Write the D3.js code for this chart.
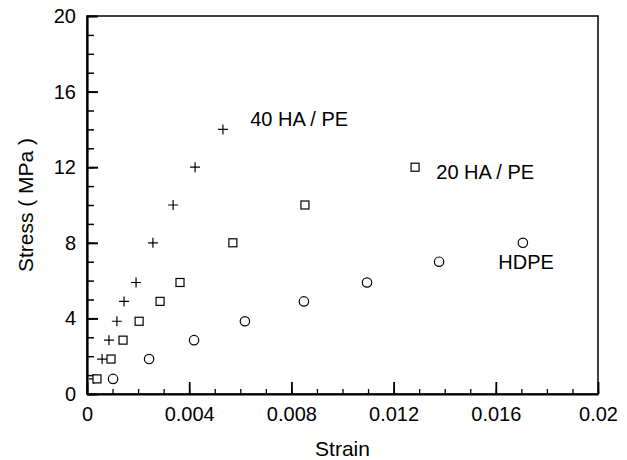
<!DOCTYPE html>
<html>
<head>
<meta charset="utf-8">
<script src="https://cdn.jsdelivr.net/npm/d3@7"></script>
<style>
  html, body { margin: 0; padding: 0; background: #fff; }
  svg { display: block; font-family: "Liberation Sans", Arial, sans-serif; }
</style>
</head>
<body>
<svg id="chart" width="627" height="460"></svg>
<script>
// ---- data ----
const xTickValues = [0, 0.004, 0.008, 0.012, 0.016, 0.02];
const xTickLabels = ["0", "0.004", "0.008", "0.012", "0.016", "0.02"];
const yTickValues = [0, 4, 8, 12, 16, 20];
const yTickLabels = ["0", "4", "8", "12", "16", "20"];

const ha40Strain = [0.00027, 0.00059, 0.00086, 0.00117, 0.00145, 0.00192, 0.00258, 0.00337, 0.00423, 0.00532];
const ha40Stress = [0.8, 1.85, 2.85, 3.85, 4.9, 5.9, 8, 10, 12, 14];

const ha20Strain = [0.00039, 0.00094, 0.00141, 0.00204, 0.00286, 0.00364, 0.00571, 0.00853, 0.01284];
const ha20Stress = [0.8, 1.85, 2.85, 3.85, 4.9, 5.9, 8, 10, 12];

const hdpeStrain = [0.00102, 0.00243, 0.00419, 0.00618, 0.00849, 0.01096, 0.01378, 0.01706];
const hdpeStress = [0.8, 1.85, 2.85, 3.85, 4.9, 5.9, 7, 8];

const seriesNames = ["40 HA / PE", "20 HA / PE", "HDPE"];

// ---- layout ----
const svg = d3.select("#chart");
const mLeft = 87, mRight = 598, mTop = 16, mBottom = 394;
const x = d3.scaleLinear().domain([0, 0.02]).range([mLeft, mRight]);
const y = d3.scaleLinear().domain([0, 20]).range([mBottom, mTop]);

// frame (top/right)
svg.append("rect")
  .attr("x", mLeft).attr("y", mTop)
  .attr("width", mRight - mLeft).attr("height", mBottom - mTop)
  .attr("fill", "none").attr("stroke", "#000").attr("stroke-width", 1.5);

// minor ticks
svg.append("g")
  .attr("transform", `translate(0,${mBottom})`)
  .call(d3.axisBottom(x).tickValues(d3.range(0, 21).map(d => d / 1000)).tickSize(-5).tickFormat(""))
  .call(g => g.select(".domain").remove())
  .call(g => g.selectAll("line").attr("stroke", "#000").attr("stroke-width", 1.3));

svg.append("g")
  .attr("transform", `translate(${mLeft},0)`)
  .call(d3.axisLeft(y).tickValues(d3.range(0, 21)).tickSize(-7).tickFormat(""))
  .call(g => g.select(".domain").remove())
  .call(g => g.selectAll("line").attr("stroke", "#000").attr("stroke-width", 1.5));

// major axes
svg.append("g")
  .attr("transform", `translate(0,${mBottom})`)
  .call(d3.axisBottom(x).tickValues(xTickValues).tickSize(-12).tickSizeOuter(0).tickPadding(13)
        .tickFormat((d, i) => xTickLabels[i]))
  .call(g => g.select(".domain").attr("stroke", "#000").attr("stroke-width", 2.2))
  .call(g => g.selectAll("line").attr("stroke", "#000").attr("stroke-width", 1.8))
  .call(g => g.selectAll("text").attr("font-size", 20).attr("fill", "#000")
        .attr("font-family", "Liberation Sans, Arial, sans-serif"));

svg.append("g")
  .attr("transform", `translate(${mLeft},0)`)
  .call(d3.axisLeft(y).tickValues(yTickValues).tickSize(-11).tickSizeOuter(0).tickPadding(11)
        .tickFormat((d, i) => yTickLabels[i]))
  .call(g => g.select(".domain").attr("stroke", "#000").attr("stroke-width", 2.2))
  .call(g => g.selectAll("line").attr("stroke", "#000").attr("stroke-width", 2))
  .call(g => g.selectAll("text").attr("font-size", 20).attr("fill", "#000")
        .attr("font-family", "Liberation Sans, Arial, sans-serif"));

// axis titles
svg.append("text")
  .attr("x", (mLeft + mRight) / 2).attr("y", 456)
  .attr("text-anchor", "middle").attr("font-size", 21).text("Strain");

svg.append("text")
  .attr("transform", `translate(33,${(mTop + mBottom) / 2}) rotate(-90)`)
  .attr("text-anchor", "middle").attr("font-size", 21).text("Stress ( MPa )");

// markers
const pts = (xs, ys) => xs.map((v, i) => ({ x: v, y: ys[i] }));

svg.append("g").selectAll("path")
  .data(pts(ha40Strain, ha40Stress)).join("path")
  .attr("d", d => `M${x(d.x) - 5},${y(d.y)}H${x(d.x) + 5}M${x(d.x)},${y(d.y) - 5}V${y(d.y) + 5}`)
  .attr("stroke", "#000").attr("stroke-width", 1.2).attr("fill", "none");

svg.append("g").selectAll("rect")
  .data(pts(ha20Strain, ha20Stress)).join("rect")
  .attr("x", d => x(d.x) - 4).attr("y", d => y(d.y) - 4)
  .attr("width", 8).attr("height", 8)
  .attr("stroke", "#000").attr("stroke-width", 1.2).attr("fill", "#fff");

svg.append("g").selectAll("circle")
  .data(pts(hdpeStrain, hdpeStress)).join("circle")
  .attr("cx", d => x(d.x)).attr("cy", d => y(d.y)).attr("r", 4.7)
  .attr("stroke", "#000").attr("stroke-width", 1.2).attr("fill", "#fff");

// series labels, anchored to data coordinates
const labelG = svg.append("g").attr("font-size", 20).attr("fill", "#000");
labelG.append("text").attr("x", x(0.00639)).attr("y", y(14.2)).text(seriesNames[0]);
labelG.append("text").attr("x", x(0.01367)).attr("y", y(11.35)).text(seriesNames[1]);
labelG.append("text").attr("x", x(0.0161)).attr("y", y(6.6)).text(seriesNames[2]);
</script>
</body>
</html>
